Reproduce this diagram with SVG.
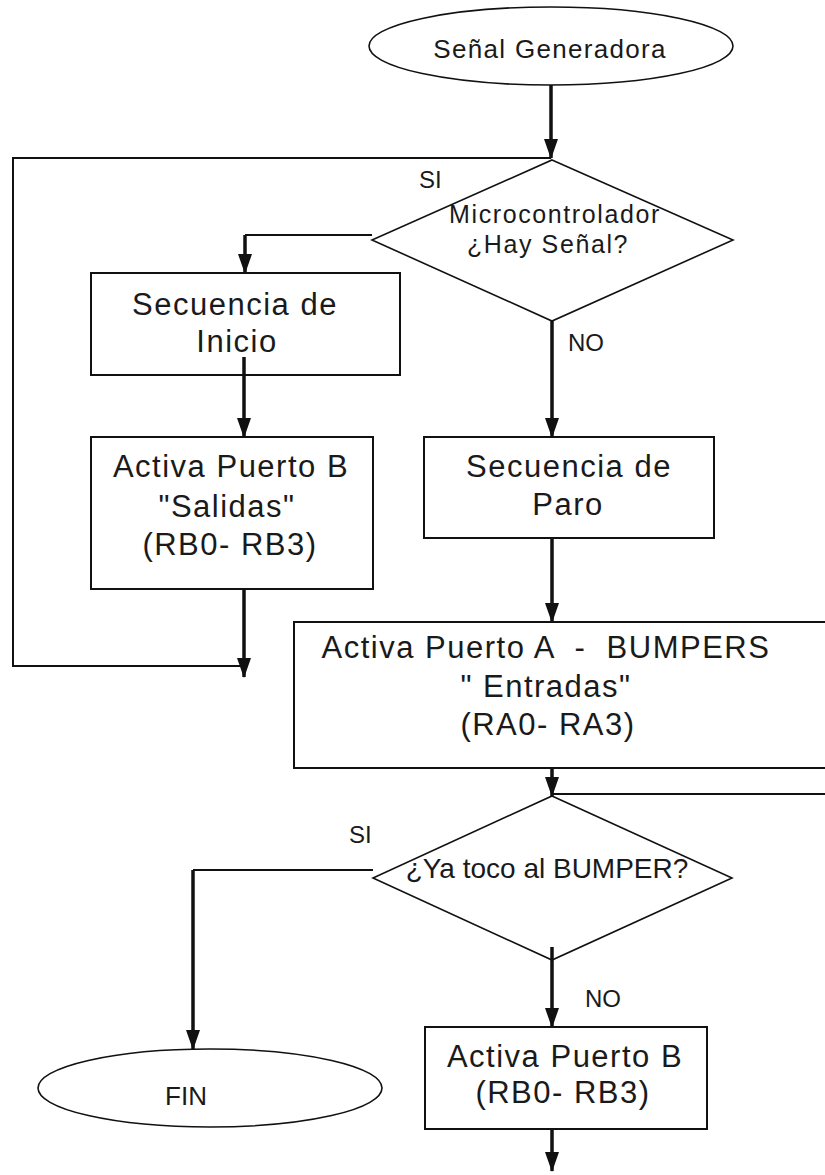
<svg xmlns="http://www.w3.org/2000/svg" width="825" height="1175" viewBox="0 0 825 1175">
  <style>
    .shape { fill: #ffffff; stroke: #111111; stroke-width: 1.6; }
    .box { fill: #ffffff; stroke: #111111; stroke-width: 2; }
    .txt { font-family: "Liberation Sans", Arial, sans-serif; fill: #1a1a1a; text-anchor: middle; }
    .big { font-size: 31px; letter-spacing: 1.5px; }
    .mid { font-size: 25px; letter-spacing: 1.6px; }
    .lbl { font-size: 24px; text-anchor: start; }
    .thin { fill: none; stroke: #111111; stroke-width: 2; }
    .flow { fill: none; stroke: #111111; stroke-width: 3.5; }
  </style>
  <defs>
    <marker id="arrow" markerUnits="userSpaceOnUse" markerWidth="20" markerHeight="14" viewBox="0 -7 20 14" refX="19" refY="0" orient="auto">
      <path d="M0,-7 L20,0 L0,7 z" fill="#111111"/>
    </marker>
  </defs>

  <rect width="825" height="1175" fill="#ffffff"/>

  <!-- connectors -->
  <g id="connectors">
    <path class="thin" d="M245 666 H13 V158 H551"/>
    <path class="flow" d="M551 85 V158" marker-end="url(#arrow)"/>
    <path class="thin" d="M372 235 H245"/>
    <path class="flow" d="M245 235 V273" marker-end="url(#arrow)"/>
    <path class="flow" d="M244 357 V437" marker-end="url(#arrow)"/>
    <path class="flow" d="M244 589 V677" marker-end="url(#arrow)"/>
    <path class="flow" d="M552 320 V437" marker-end="url(#arrow)"/>
    <path class="flow" d="M552 538 V622" marker-end="url(#arrow)"/>
    <path class="flow" d="M552 768 V796" marker-end="url(#arrow)"/>
    <path class="thin" d="M552 794 H826"/>
    <path class="thin" d="M373 870 H193"/>
    <path class="flow" d="M193 870 V1049" marker-end="url(#arrow)"/>
    <path class="flow" d="M552 947 V1027" marker-end="url(#arrow)"/>
    <path class="flow" d="M552 1129 V1171" marker-end="url(#arrow)"/>
  </g>

  <!-- start terminal -->
  <g id="start">
    <ellipse class="shape" cx="551" cy="46" rx="182" ry="39"/>
    <text class="txt" x="550" y="58" style="font-size:26px;letter-spacing:1.3px">Señal Generadora</text>
  </g>

  <!-- decision: signal present -->
  <g id="decision-signal">
    <polygon class="shape" points="552,160 733,240 552,321 372,240" style="fill:none"/>
    <text class="txt mid" x="555" y="223">Microcontrolador</text>
    <text class="txt mid" x="548" y="253">¿Hay Señal?</text>
  </g>

  <g id="label-si-1"><text class="txt lbl" x="419" y="188">SI</text></g>
  <g id="label-no-1"><text class="txt lbl" x="568" y="351">NO</text></g>

  <!-- start sequence -->
  <g id="start-sequence">
    <rect class="box" x="91" y="273" width="309" height="102" style="fill:none"/>
    <text class="txt big" x="235" y="315">Secuencia de</text>
    <text class="txt big" x="237" y="352">Inicio</text>
  </g>

  <!-- port B outputs -->
  <g id="port-b-outputs">
    <rect class="box" x="91" y="437" width="282" height="152"/>
    <text class="txt big" x="231" y="477">Activa Puerto B</text>
    <text class="txt big" x="227" y="517">"Salidas"</text>
    <text class="txt big" x="230" y="555">(RB0- RB3)</text>
  </g>

  <!-- stop sequence -->
  <g id="stop-sequence">
    <rect class="box" x="424" y="437" width="290" height="101"/>
    <text class="txt big" x="569" y="477">Secuencia de</text>
    <text class="txt big" x="568" y="515">Paro</text>
  </g>

  <!-- port A inputs -->
  <g id="port-a-inputs">
    <rect class="box" x="294" y="622" width="545" height="146"/>
    <text class="txt big" x="546" y="658" xml:space="preserve">Activa Puerto A  -  BUMPERS</text>
    <text class="txt big" x="546" y="697">" Entradas"</text>
    <text class="txt big" x="548" y="735">(RA0- RA3)</text>
  </g>

  <!-- decision: bumper touched -->
  <g id="decision-bumper">
    <polygon class="shape" points="552,796 732,878 552,960 373,878" style="fill:none"/>
    <text class="txt" x="547" y="878" style="font-size:28px">¿Ya toco al BUMPER?</text>
  </g>

  <g id="label-si-2"><text class="txt lbl" x="349" y="843">SI</text></g>
  <g id="label-no-2"><text class="txt lbl" x="585" y="1007">NO</text></g>

  <!-- end terminal -->
  <g id="end">
    <ellipse class="shape" cx="210" cy="1088" rx="172" ry="39"/>
    <text class="txt" x="186" y="1105" style="font-size:26px">FIN</text>
  </g>

  <!-- port B -->
  <g id="port-b">
    <rect class="box" x="425" y="1027" width="282" height="102"/>
    <text class="txt big" x="565" y="1067">Activa Puerto B</text>
    <text class="txt big" x="563" y="1103">(RB0- RB3)</text>
  </g>
</svg>
